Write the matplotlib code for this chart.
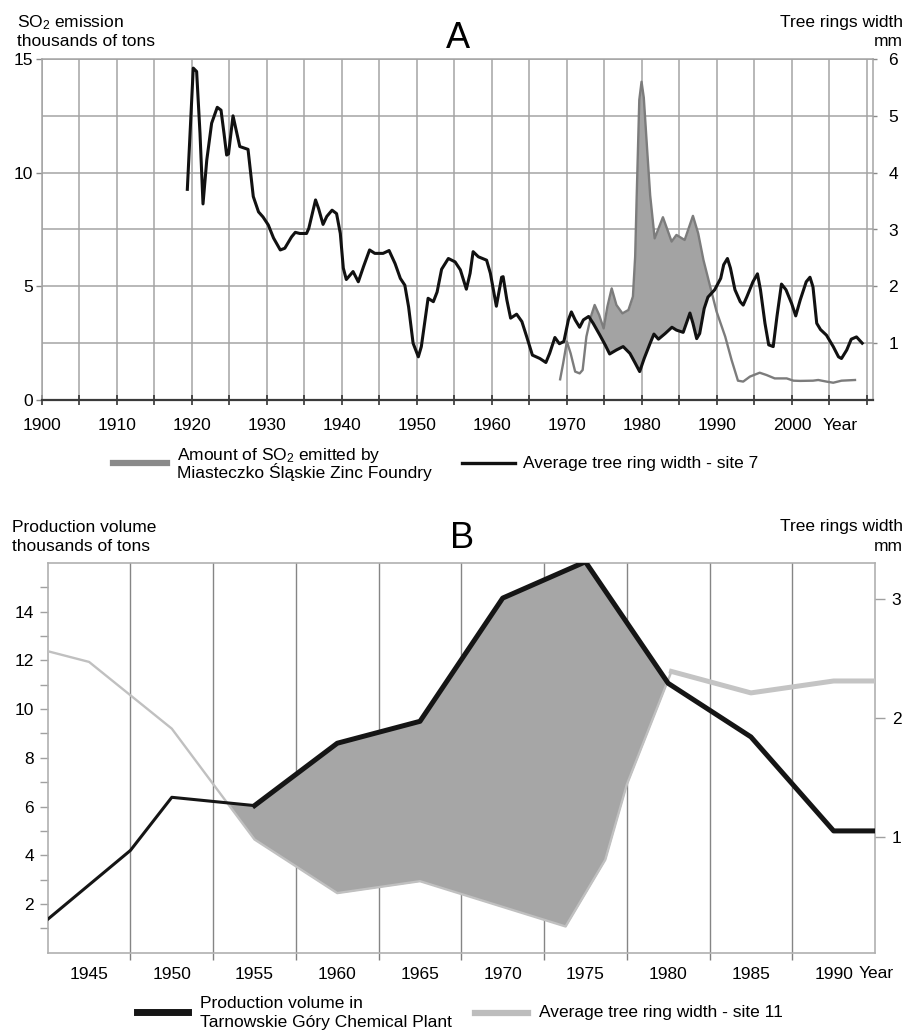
import numpy as np
import matplotlib
matplotlib.use("Agg")
import matplotlib.pyplot as plt
from matplotlib.lines import Line2D

plt.rcParams['font.family'] = ['Liberation Sans', 'DejaVu Sans']
plt.rcParams['mathtext.fontset'] = 'custom'
plt.rcParams['mathtext.rm'] = 'Liberation Sans'
plt.rcParams['mathtext.it'] = 'Liberation Sans:italic'

# ---------------- data: panel A ----------------
so2_years = [1969.1, 1969.5, 1970.0, 1970.5, 1971.1, 1971.7, 1972.1, 1972.6, 1973.2, 1973.7,
             1974.3, 1974.9, 1975.4, 1975.97, 1976.6, 1977.4, 1978.2, 1978.8, 1979.1, 1979.3,
             1979.65, 1979.95, 1980.25, 1980.7, 1981.1, 1981.7, 1982.8, 1983.96, 1984.6, 1985.7,
             1986.8, 1987.5, 1988.2, 1989.1, 1989.95, 1991.1, 1991.95, 1992.8, 1993.5, 1994.4,
             1995.7, 1996.6, 1997.7, 1999.3, 2000.2, 2001.1, 2002.8, 2003.5, 2004.6, 2005.5,
             2006.6, 2008.4]
so2_values = [0.91, 1.61, 2.57, 2.05, 1.25, 1.17, 1.32, 2.79, 3.67, 4.18,
              3.74, 3.15, 4.11, 4.91, 4.18, 3.81, 3.96, 4.55, 6.31, 8.9,
              13.2, 14.0, 13.3, 11.0, 9.0, 7.11, 8.04, 6.97, 7.26, 7.04,
              8.10, 7.33, 6.16, 4.99, 3.89, 2.79, 1.76, 0.85, 0.81, 1.03,
              1.20, 1.10, 0.95, 0.95, 0.85, 0.84, 0.85, 0.88, 0.81, 0.76,
              0.85, 0.88]

ringA_years = [1919.4, 1920.0, 1920.2, 1920.65, 1921.1, 1921.5, 1922.0, 1922.65, 1923.4, 1923.9,
               1924.3, 1924.65, 1924.9, 1925.5, 1926.4, 1927.5, 1928.2, 1928.9, 1929.5, 1930.2,
               1930.9, 1931.8, 1932.4, 1933.3, 1933.8, 1934.4, 1935.3, 1935.6, 1936.5, 1936.9,
               1937.5, 1938.0, 1938.7, 1939.3, 1939.8, 1940.2, 1940.6, 1941.5, 1942.2, 1942.9,
               1943.7, 1944.4, 1945.5, 1946.3, 1947.1, 1947.8, 1948.4, 1948.9, 1949.5, 1950.2,
               1950.6, 1951.5, 1952.2, 1952.7, 1953.3, 1954.2, 1955.1, 1955.8, 1956.6, 1957.1,
               1957.5, 1958.2, 1959.3, 1959.8, 1960.6, 1961.3, 1961.5, 1962.0, 1962.5, 1963.3,
               1964.0, 1964.7, 1965.4, 1966.4, 1967.2, 1967.7, 1968.4, 1969.0, 1969.6, 1970.2,
               1970.6, 1971.1, 1971.7, 1972.2, 1972.9, 1973.5, 1974.4, 1975.1, 1975.7, 1976.6,
               1977.5, 1978.4, 1979.1, 1979.7, 1980.3, 1981.1, 1981.6, 1982.2, 1983.1, 1984.0,
               1984.6, 1985.5, 1986.0, 1986.4, 1986.8, 1987.3, 1987.7, 1988.3, 1988.8, 1989.7,
               1990.5, 1990.9, 1991.4, 1991.8, 1992.4, 1993.1, 1993.5, 1994.0, 1994.8, 1995.4,
               1995.8, 1996.4, 1996.9, 1997.5, 1998.0, 1998.6, 1999.2, 1999.95, 2000.5, 2001.1,
               2001.9, 2002.4, 2002.8, 2003.3, 2003.8, 2004.6, 2005.5, 2006.2, 2006.6, 2007.3,
               2007.9, 2008.6, 2009.5]
ringA_values = [3.68, 5.28, 5.84, 5.78, 4.69, 3.45, 4.22, 4.87, 5.15, 5.10,
                4.69, 4.31, 4.33, 5.00, 4.46, 4.41, 3.58, 3.31, 3.22, 3.08,
                2.85, 2.64, 2.67, 2.87, 2.95, 2.93, 2.93, 3.02, 3.52, 3.37,
                3.09, 3.23, 3.34, 3.28, 2.93, 2.32, 2.12, 2.26, 2.08, 2.35,
                2.64, 2.58, 2.58, 2.63, 2.40, 2.14, 2.02, 1.64, 1.00, 0.76,
                0.94, 1.79, 1.73, 1.90, 2.30, 2.49, 2.43, 2.29, 1.95, 2.23,
                2.61, 2.52, 2.46, 2.23, 1.65, 2.16, 2.17, 1.76, 1.44, 1.51,
                1.38, 1.09, 0.79, 0.73, 0.66, 0.82, 1.10, 0.99, 1.03, 1.41,
                1.55, 1.41, 1.28, 1.41, 1.47, 1.35, 1.14, 0.97, 0.81, 0.88,
                0.94, 0.82, 0.65, 0.50, 0.73, 1.00, 1.16, 1.07, 1.17, 1.28,
                1.23, 1.19, 1.38, 1.53, 1.35, 1.08, 1.17, 1.61, 1.81, 1.94,
                2.14, 2.38, 2.49, 2.32, 1.94, 1.73, 1.67, 1.82, 2.08, 2.22,
                1.94, 1.35, 0.97, 0.94, 1.47, 2.04, 1.94, 1.70, 1.48, 1.76,
                2.08, 2.16, 1.99, 1.35, 1.24, 1.14, 0.94, 0.76, 0.73, 0.88,
                1.07, 1.11, 0.98]

A_xticklabels = ['1900', '1910', '1920', '1930', '1940', '1950', '1960', '1970', '1980', '1990', '2000']
A_left_labels = ['0', '5', '10', '15']
A_right_labels = ['1', '2', '3', '4', '5', '6']

# ---------------- data: panel B ----------------
prod_years = [1942.5, 1947.5, 1950, 1955, 1960, 1965, 1970, 1975, 1980, 1985, 1990, 1992.5]
prod_values = [1.37, 4.2, 6.38, 6.04, 8.6, 9.5, 14.56, 16.05, 11.06, 8.86, 5.0, 5.0]

ringB_years = [1942.5, 1945, 1950, 1955, 1960, 1965, 1973.8, 1976.2, 1977.5, 1980.2, 1985, 1990, 1992.5]
ringB_values = [2.56, 2.47, 1.91, 0.98, 0.53, 0.63, 0.25, 0.81, 1.44, 2.39, 2.21, 2.31, 2.31]

B_xticklabels = ['1945', '1950', '1955', '1960', '1965', '1970', '1975', '1980', '1985', '1990']
B_left_labels = ['2', '4', '6', '8', '10', '12', '14']
B_right_labels = ['1', '2', '3']

# ---------------- figure ----------------
W, H = 914, 1031
fig = plt.figure(figsize=(W / 100, H / 100), dpi=100)


def fx(x):
    return x / W


def fy(y):
    return 1 - y / H


def right_to_left(ax, ax2, xs, ys):
    pts = np.column_stack([xs, ys])
    disp = ax2.transData.transform(pts)
    return ax.transData.inverted().transform(disp)[:, 1]


def fill_where_above(ax, x1, y1, x2, y2, **kw):
    x1 = np.asarray(x1, float); x2 = np.asarray(x2, float)
    lo = max(x1.min(), x2.min()); hi = min(x1.max(), x2.max())
    xs = np.union1d(x1, x2)
    xs = xs[(xs >= lo) & (xs <= hi)]
    a = np.interp(xs, x1, y1)
    b = np.interp(xs, x2, y2)
    ax.fill_between(xs, a, b, where=a > b, interpolate=True, **kw)


FS = 12.5
GRID = '#a4a4a4'

# ================= Panel A =================
axA = fig.add_axes([fx(41.7), fy(400), fx(873) - fx(41.7), fy(59) - fy(400)])
axA2 = axA.twinx()
axA.set_xlim(1900, 2010.8)
axA.set_ylim(0, 15)
axA2.set_ylim(0, 6)

xt = list(range(1900, 2011, 5))
axA.set_xticks(xt)
lab_iter = iter(A_xticklabels)
axA.set_xticklabels([next(lab_iter) if (y % 10 == 0 and y <= 2000) else '' for y in xt], fontsize=FS)
axA.tick_params(axis='x', direction='inout', length=7, width=1.2, color='#333333', pad=9.5)
axA.set_yticks([0, 5, 10, 15])
axA.set_yticklabels(A_left_labels, fontsize=FS)
axA.set_yticks([2.5, 7.5, 12.5], minor=True)
axA.tick_params(axis='y', which='major', length=4, width=1, color='#888888', pad=2)
axA.tick_params(axis='y', which='minor', length=0)
axA.grid(axis='x', which='major', color=GRID, lw=1.1)
axA.grid(axis='y', which='both', color=GRID, lw=1.1)
axA.set_axisbelow(True)
for s in ['left', 'right', 'top']:
    axA.spines[s].set_color(GRID)
    axA.spines[s].set_linewidth(1.1)
axA.spines['bottom'].set_color('#3a3a3a')
axA.spines['bottom'].set_linewidth(1.6)

axA2.set_yticks([1, 2, 3, 4, 5, 6])
axA2.set_yticklabels(A_right_labels, fontsize=FS)
axA2.tick_params(axis='y', length=3, width=1, color='#888888', pad=8)
for s in axA2.spines.values():
    s.set_visible(False)

ringA_left = right_to_left(axA, axA2, ringA_years, ringA_values)
fill_where_above(axA, so2_years, so2_values, ringA_years, ringA_left,
                 color='#a3a3a3', lw=0, zorder=2)
axA.plot(so2_years, so2_values, color='#7c7c7c', lw=1.7, zorder=3, solid_joinstyle='round')
axA.plot(ringA_years, ringA_values, transform=axA2.transData, color='#111111', lw=2.2,
         zorder=4, solid_joinstyle='round', solid_capstyle='butt')

fig.text(fx(17), fy(27.5), r'SO$_2$ emission', fontsize=FS, ha='left', va='baseline')
fig.text(fx(17), fy(46), 'thousands of tons', fontsize=FS, ha='left', va='baseline')
fig.text(fx(903), fy(26.5), 'Tree rings width', fontsize=FS, ha='right', va='baseline')
fig.text(fx(903), fy(46), 'mm', fontsize=FS, ha='right', va='baseline')
fig.text(fx(457.5), fy(48), 'A', fontsize=26, ha='center', va='baseline')
fig.text(fx(823), fy(430), 'Year', fontsize=FS, ha='left', va='baseline')

# legend A
fig.add_artist(Line2D([fx(113), fx(167)], [fy(463), fy(463)], color='#8a8a8a', lw=4.5,
                      transform=fig.transFigure))
fig.text(fx(177), fy(460), r'Amount of SO$_2$ emitted by', fontsize=FS, ha='left', va='baseline')
fig.text(fx(177), fy(478), 'Miasteczko Śląskie Zinc Foundry', fontsize=FS, ha='left', va='baseline')
fig.add_artist(Line2D([fx(462), fx(515)], [fy(463), fy(463)], color='#111111', lw=2.4,
                      transform=fig.transFigure))
fig.text(fx(523), fy(468), 'Average tree ring width - site 7', fontsize=FS, ha='left', va='baseline')

# ================= Panel B =================
axB = fig.add_axes([fx(47.7), fy(952.7), fx(875) - fx(47.7), fy(563) - fy(952.7)])
axB2 = axB.twinx()
axB.set_xlim(1942.5, 1992.5)
axB.set_ylim(0, 16)
axB2.set_ylim(0.03, 3.30)

axB.set_xticks(list(range(1945, 1991, 5)))
axB.set_xticklabels(B_xticklabels, fontsize=FS)
axB.set_xticks([1947.5 + 5 * i for i in range(9)], minor=True)
axB.tick_params(axis='x', which='major', length=0, pad=10)
axB.tick_params(axis='x', which='minor', length=5, width=1, color='#808080', direction='out')
axB.grid(axis='x', which='minor', color='#858585', lw=1.0)
axB.set_axisbelow(True)
axB.set_yticks([2, 4, 6, 8, 10, 12, 14])
axB.set_yticklabels(B_left_labels, fontsize=FS)
axB.set_yticks([1, 3, 5, 7, 9, 11, 13, 15], minor=True)
axB.tick_params(axis='y', which='both', length=6, width=1, color='#a0a0a0', pad=4)
for s in axB.spines.values():
    s.set_color('#b0b0b0')
    s.set_linewidth(1.2)

axB2.set_yticks([1, 2, 3])
axB2.set_yticklabels(B_right_labels, fontsize=FS)
axB2.tick_params(axis='y', length=7, width=1, color='#a0a0a0', pad=5)
for s in axB2.spines.values():
    s.set_visible(False)

ringB_left = right_to_left(axB, axB2, ringB_years, ringB_values)
fill_where_above(axB, prod_years, prod_values, ringB_years, ringB_left,
                 color='#a6a6a6', lw=0, zorder=2)
axB.plot(ringB_years, ringB_values, transform=axB2.transData, color='#c0c0c0', lw=1.7,
         zorder=3, solid_joinstyle='round')
k = ringB_years.index(1980.2)
axB.plot(ringB_years[k:], ringB_values[k:], transform=axB2.transData, color='#c4c4c4', lw=3.6,
         zorder=3, solid_joinstyle='round')
axB.plot(prod_years[:4], prod_values[:4], color='#151515', lw=2.2, zorder=5, solid_joinstyle='round')
axB.plot(prod_years[3:], prod_values[3:], color='#151515', lw=3.6, zorder=5, solid_joinstyle='round')

fig.text(fx(12), fy(532), 'Production volume', fontsize=FS, ha='left', va='baseline')
fig.text(fx(12), fy(551), 'thousands of tons', fontsize=FS, ha='left', va='baseline')
fig.text(fx(903), fy(531), 'Tree rings width', fontsize=FS, ha='right', va='baseline')
fig.text(fx(903), fy(551), 'mm', fontsize=FS, ha='right', va='baseline')
fig.text(fx(462), fy(548), 'B', fontsize=26, ha='center', va='baseline')
fig.text(fx(859), fy(978), 'Year', fontsize=FS, ha='left', va='baseline')

# legend B
fig.add_artist(Line2D([fx(137), fx(188)], [fy(1012), fy(1012)], color='#151515', lw=5,
                      transform=fig.transFigure))
fig.text(fx(200), fy(1008), 'Production volume in', fontsize=FS, ha='left', va='baseline')
fig.text(fx(200), fy(1027), 'Tarnowskie Góry Chemical Plant', fontsize=FS, ha='left', va='baseline')
fig.add_artist(Line2D([fx(475), fx(528)], [fy(1013), fy(1013)], color='#bdbdbd', lw=4.5,
                      transform=fig.transFigure))
fig.text(fx(539), fy(1017), 'Average tree ring width - site 11', fontsize=FS, ha='left', va='baseline')

fig.savefig('out.png', dpi=100)
